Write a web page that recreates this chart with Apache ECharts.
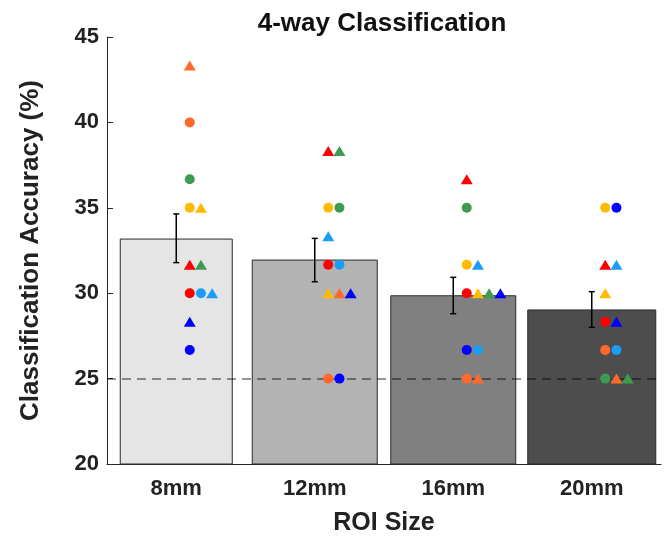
<!DOCTYPE html>
<html>
<head>
<meta charset="utf-8">
<script src="https://cdn.jsdelivr.net/npm/echarts@6/dist/echarts.min.js"></script>
<style>html,body{margin:0;padding:0;background:#fff}#c{width:664px;height:536px}</style>
</head>
<body>
<div id="c"></div>
<script>
// ---- data ----
const categories = ['8mm', '12mm', '16mm', '20mm'];
const meanAcc = [33.17, 31.94, 29.85, 29.02];
const errLow = [31.79, 30.67, 28.80, 28.00];
const errHigh = [34.64, 33.21, 30.93, 30.09];
const chanceLevel = 25;
const yTicks = [20, 25, 30, 35, 40, 45];

// per-subject values (ROI 8, 12, 16, 20 mm); order = placement order
const subjectColors = ['#ff0000', '#ffbb00', '#ff6a2c', '#3f9a52', '#0000ff', '#1a9ef5'];
const circleVals = [
  [30.00, 31.67, 30.00, 28.33],  // red
  [35.00, 35.00, 31.67, 35.00],  // yellow
  [40.00, 25.00, 25.00, 26.67],  // orange
  [36.67, 35.00, 35.00, 25.00],  // green
  [26.67, 25.00, 26.67, 35.00],  // blue
  [30.00, 31.67, 26.67, 26.67]   // light blue
];
const triangleVals = [
  [31.67, 38.33, 36.67, 31.67],  // red
  [35.00, 30.00, 30.00, 30.00],  // yellow
  [43.33, 30.00, 25.00, 25.00],  // orange
  [31.67, 38.33, 30.00, 25.00],  // green
  [28.33, 30.00, 30.00, 28.33],  // blue
  [30.00, 33.33, 31.67, 31.67]   // light blue
];

// ---- styles ----
const barColors = ['#e5e5e5', '#b3b3b3', '#808080', '#4d4d4d'];
const barWidths = [112, 125, 125, 128];
const FONT = '"Liberation Sans", Arial, Helvetica, sans-serif';
const TXT = '#222222';

// build scatter series with side-by-side placement for tied values
const groups = [];
circleVals.forEach((vals, c) => groups.push({shape: 'circle', color: subjectColors[c], vals}));
triangleVals.forEach((vals, c) => groups.push({shape: 'triangle', color: subjectColors[c], vals}));
const tieCount = categories.map(() => ({}));
const scatterSeries = groups.map(g => {
  const data = g.vals.map((v, i) => {
    const key = v.toFixed(2);
    const k = tieCount[i][key] || 0;
    tieCount[i][key] = k + 1;
    return {value: [i, v], symbolOffset: [13.5 + k * 11.2, 0]};
  });
  return {
    type: 'scatter', data, z: 6,
    symbol: g.shape,
    symbolSize: g.shape === 'circle' ? 10 : [12, 10],
    itemStyle: {color: g.color, opacity: 1},
    silent: true
  };
});

const chart = echarts.init(document.getElementById('c'), null, {renderer: 'canvas'});
chart.setOption({
  animation: false,
  backgroundColor: '#ffffff',
  title: {
    text: '4-way Classification',
    left: 382, top: 11, padding: 0, textAlign: 'center',
    textStyle: {fontFamily: FONT, fontSize: 26, fontWeight: 'bold', color: '#111'}
  },
  grid: {left: 107, right: 3, top: 37, bottom: 72, containLabel: false, outerBoundsMode: 'none'},
  xAxis: {
    type: 'category',
    data: categories,
    boundaryGap: true,
    name: 'ROI Size',
    nameLocation: 'middle',
    nameGap: 47,
    nameTextStyle: {fontFamily: FONT, fontSize: 25, fontWeight: 'bold', color: TXT},
    axisLine: {show: true, lineStyle: {color: '#262626', width: 1}},
    axisTick: {show: true, inside: true, alignWithLabel: true, length: 5, lineStyle: {color: '#262626'}},
    axisLabel: {fontFamily: FONT, fontSize: 22, fontWeight: 'bold', color: TXT, margin: 14},
    splitLine: {show: false}
  },
  yAxis: {
    type: 'value',
    min: yTicks[0], max: yTicks[yTicks.length - 1], interval: 5,
    name: 'Classification Accuracy (%)',
    nameLocation: 'middle',
    nameGap: 63,
    nameRotate: 90,
    nameTextStyle: {fontFamily: FONT, fontSize: 26, fontWeight: 'bold', color: TXT},
    axisLine: {show: true, lineStyle: {color: '#262626', width: 1}},
    axisTick: {show: true, inside: true, length: 6, lineStyle: {color: '#262626'}},
    axisLabel: {fontFamily: FONT, fontSize: 22, fontWeight: 'bold', color: TXT, margin: 8},
    splitLine: {show: false}
  },
  series: [
    {
      type: 'custom', z: 2, silent: true,
      data: meanAcc.map((v, i) => [i, v]),
      renderItem(params, api) {
        const i = api.value(0);
        const top = api.coord([i, api.value(1)]);
        const base = api.coord([i, yTicks[0]]);
        const w = barWidths[i];
        return {
          type: 'rect',
          shape: {x: top[0] - w / 2, y: top[1], width: w, height: base[1] - top[1]},
          style: {fill: barColors[i], stroke: '#2b2b2b', lineWidth: 1}
        };
      }
    },
    {
      type: 'line', data: [], z: 3, silent: true,
      markLine: {
        silent: true, symbol: 'none', animation: false,
        label: {show: false},
        lineStyle: {type: [9, 6], color: 'rgba(0,0,0,0.55)', width: 1.5},
        data: [{yAxis: chanceLevel}]
      }
    },
    {
      type: 'custom', z: 4, silent: true,
      data: errLow.map((lo, i) => [i, lo, errHigh[i]]),
      renderItem(params, api) {
        const i = api.value(0);
        const lo = api.coord([i, api.value(1)]);
        const hi = api.coord([i, api.value(2)]);
        const cap = 3;
        const st = {stroke: '#000', lineWidth: 1.5};
        return {
          type: 'group',
          children: [
            {type: 'line', shape: {x1: lo[0], y1: lo[1], x2: hi[0], y2: hi[1]}, style: st},
            {type: 'line', shape: {x1: lo[0] - cap, y1: lo[1], x2: lo[0] + cap, y2: lo[1]}, style: st},
            {type: 'line', shape: {x1: hi[0] - cap, y1: hi[1], x2: hi[0] + cap, y2: hi[1]}, style: st}
          ]
        };
      }
    }
  ].concat(scatterSeries)
});
</script>
</body>
</html>
